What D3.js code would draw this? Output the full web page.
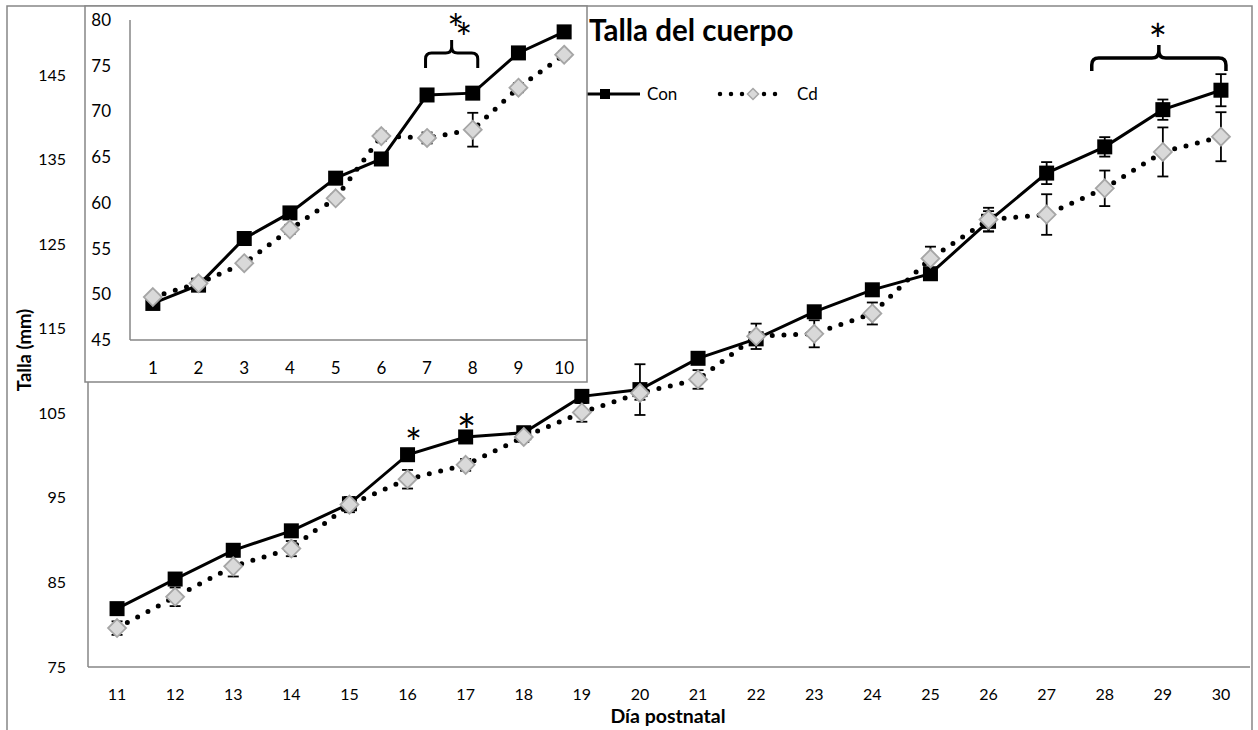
<!DOCTYPE html>
<html>
<head>
<meta charset="utf-8">
<script src="https://cdn.jsdelivr.net/npm/d3@7"></script>
<style>
    body { margin: 0; background: #fff; }
    svg { display: block; font-family: Lato, "Open Sans", sans-serif; }
</style>
</head>
<body>
<svg id="chart" width="1258" height="730"></svg>
<script>
// main panel: days 11-30
const mainDays = [11, 12, 13, 14, 15, 16, 17, 18, 19, 20, 21, 22, 23, 24, 25, 26, 27, 28, 29, 30];
const conMain = [81.9, 85.4, 88.8, 91.1, 94.3, 100.1, 102.2, 102.7, 107.0, 107.8, 111.5, 113.8, 117.0, 119.6, 121.5, 127.7, 133.4, 136.5, 140.9, 143.2];
const cdMain = [79.6, 83.3, 86.9, 89.0, 94.2, 97.2, 98.9, 102.2, 105.1, 107.4, 109.0, 114.1, 114.4, 116.8, 123.3, 127.9, 128.5, 131.6, 135.9, 137.7];
const conMainErr = [0.4, 0.5, 0.5, 0.5, 0.6, 0.5, 0.5, 0.5, 0.5, 3.0, 0.6, 0.5, 0.6, 0.5, 0.6, 1.2, 1.3, 1.15, 1.2, 1.9];
const cdMainErr = [0.8, 1.1, 1.2, 0.9, 0.9, 1.1, 0.7, 0.6, 1.1, 0.8, 1.1, 1.5, 1.6, 1.3, 1.4, 1.4, 2.4, 2.1, 2.9, 2.9];
const mainTicks = [75, 85, 95, 105, 115, 125, 135, 145];

// inset: days 1-10
const insetDays = [1, 2, 3, 4, 5, 6, 7, 8, 9, 10];
const conInset = [49.0, 51.0, 56.1, 58.9, 62.7, 64.8, 71.8, 72.0, 76.4, 78.7];
const cdInset = [49.7, 51.2, 53.4, 57.1, 60.5, 67.3, 67.1, 68.0, 72.6, 76.2];
const conInsetErr = [0.3, 0.3, 0.4, 0.4, 0.4, 0.4, 0.5, 0.4, 0.4, 0.3];
const cdInsetErr = [0.3, 0.4, 0.4, 0.5, 0.4, 0.5, 0.6, 1.85, 0.5, 0.4];
const insetTicks = [45, 50, 55, 60, 65, 70, 75, 80];

// significance marks
const starDays = [16, 17];
const mainBracket = [28, 30];
const insetBracket = [7, 8];

const seriesNames = ["Con", "Cd"];
const title = "Talla del cuerpo";

const frameColor = "#868686";
const diamondFill = "#d9d9d9";
const diamondStroke = "#a6a6a6";

const svg = d3.select("#chart");

// outer chart frame (runs off the bottom of the picture)
svg.append("rect")
    .attr("x", 7).attr("y", 6)
    .attr("width", 1245).attr("height", 800)
    .attr("fill", "#fff")
    .attr("stroke", frameColor).attr("stroke-width", 1.5);

const x = d3.scaleBand().domain(mainDays).range([88, 1250]);
const y = d3.scaleLinear().domain([75, 150]).range([667, 32.7]);

const xi = d3.scaleBand().domain(insetDays).range([130, 587]);
const yi = d3.scaleLinear().domain([45, 80]).range([340, 20]);

function styleAxis(g, size) {
    g.select(".domain").remove();
    g.attr("font-family", null).attr("font-size", null);
    g.selectAll("text").attr("font-size", size).attr("fill", "#000");
}

function diamondPath(r) {
    return `M0,${-r}L${r},0L0,${r}L${-r},0Z`;
}

function bracePath(x0, x1, yBottom, yBar, yTip, r) {
    const xm = (x0 + x1) / 2;
    return `M${x0},${yBottom}L${x0},${yBar + r}Q${x0},${yBar} ${x0 + r},${yBar}` +
        `L${xm - r},${yBar}Q${xm},${yBar} ${xm},${yBar - r}L${xm},${yTip}` +
        `M${xm},${yBar - r}Q${xm},${yBar} ${xm + r},${yBar}` +
        `L${x1 - r},${yBar}Q${x1},${yBar} ${x1},${yBar + r}L${x1},${yBottom}`;
}

// asterisk centred on (cx, cy)
function star(g, cx, cy, fs) {
    return g.append("text")
        .attr("x", cx).attr("y", cy + fs * 0.55)
        .attr("text-anchor", "middle").attr("font-size", fs)
        .text("*");
}

// draws both series with error bars into a group
function drawSeries(g, xs, ys, days, con, cd, conErr, cdErr) {
    const cx = d => xs(d) + xs.bandwidth() / 2;
    const conData = days.map((d, i) => ({day: d, v: con[i], e: conErr[i]}));
    const cdData = days.map((d, i) => ({day: d, v: cd[i], e: cdErr[i]}));
    const line = d3.line().x(d => cx(d.day)).y(d => ys(d.v));

    [conData, cdData].forEach(data => {
        const eb = g.append("g").selectAll("g").data(data).join("g")
            .attr("stroke", "#000").attr("stroke-width", 1.8);
        eb.append("line")
            .attr("x1", d => cx(d.day)).attr("x2", d => cx(d.day))
            .attr("y1", d => ys(d.v - d.e)).attr("y2", d => ys(d.v + d.e));
        eb.append("line")
            .attr("x1", d => cx(d.day) - 5.5).attr("x2", d => cx(d.day) + 5.5)
            .attr("y1", d => ys(d.v - d.e)).attr("y2", d => ys(d.v - d.e));
        eb.append("line")
            .attr("x1", d => cx(d.day) - 5.5).attr("x2", d => cx(d.day) + 5.5)
            .attr("y1", d => ys(d.v + d.e)).attr("y2", d => ys(d.v + d.e));
    });

    g.append("path").datum(conData)
        .attr("d", line).attr("fill", "none")
        .attr("stroke", "#000").attr("stroke-width", 3);
    g.append("g").selectAll("rect").data(conData).join("rect")
        .attr("x", d => cx(d.day) - 7.5).attr("y", d => ys(d.v) - 7.5)
        .attr("width", 15).attr("height", 15).attr("fill", "#000");

    g.append("path").datum(cdData)
        .attr("d", line).attr("fill", "none")
        .attr("stroke", "#000").attr("stroke-width", 5)
        .attr("stroke-linecap", "round").attr("stroke-dasharray", "0 11.7");
    g.append("g").selectAll("path").data(cdData).join("path")
        .attr("transform", d => `translate(${cx(d.day)},${ys(d.v)})`)
        .attr("d", diamondPath(9))
        .attr("fill", diamondFill).attr("stroke", diamondStroke).attr("stroke-width", 1.8);
}

// ---- main panel
const main = svg.append("g");

main.append("g")
    .attr("transform", "translate(88,0)")
    .call(d3.axisLeft(y).tickValues(mainTicks).tickSize(0).tickPadding(22))
    .call(g => styleAxis(g, 16));
main.append("g")
    .attr("transform", "translate(0,667)")
    .call(d3.axisBottom(x).tickSize(0).tickPadding(22))
    .call(g => styleAxis(g, 16));

main.append("line").attr("x1", 88).attr("x2", 88).attr("y1", 32).attr("y2", 667)
    .attr("stroke", frameColor).attr("stroke-width", 1.5);
main.append("line").attr("x1", 88).attr("x2", 1250).attr("y1", 667).attr("y2", 667)
    .attr("stroke", frameColor).attr("stroke-width", 1.5);

drawSeries(main, x, y, mainDays, conMain, cdMain, conMainErr, cdMainErr);

main.append("text")
    .attr("x", 668).attr("y", 723)
    .attr("text-anchor", "middle").attr("font-weight", "bold").attr("font-size", 19.5)
    .text("Día postnatal");
main.append("text")
    .attr("transform", "translate(31,350) rotate(-90)")
    .attr("text-anchor", "middle").attr("font-weight", "bold").attr("font-size", 18.5)
    .text("Talla (mm)");

// stars over single days
const mainCx = d => x(d) + x.bandwidth() / 2;
starDays.forEach((d, i) => {
    const v = conMain[mainDays.indexOf(d)];
    if (i === 0) star(main, mainCx(d) + 6, y(v) - 19, 40);
    else star(main, mainCx(d) + 1, y(v) - 14, 46);
});

// bracket over the last days
const bx0 = mainCx(mainBracket[0]) - 13;
const bx1 = mainCx(mainBracket[1]) + 5;
main.append("path")
    .attr("d", bracePath(bx0, bx1, 71, 58, 45, 7))
    .attr("fill", "none").attr("stroke", "#000").attr("stroke-width", 3.5);
star(main, (bx0 + bx1) / 2 - 1, 32, 44);

// title and legend
svg.append("text")
    .attr("x", 589).attr("y", 41)
    .attr("font-weight", "bold").attr("font-size", 29.5)
    .text(title);

const legend = svg.append("g").attr("transform", "translate(0,94)");
legend.append("line").attr("x1", 572).attr("x2", 640).attr("y1", 0).attr("y2", 0)
    .attr("stroke", "#000").attr("stroke-width", 3);
legend.append("rect").attr("x", 600).attr("y", -5).attr("width", 10).attr("height", 10).attr("fill", "#000");
legend.append("text").attr("x", 647).attr("y", 6).attr("font-size", 17).text(seriesNames[0]);
legend.append("line").attr("x1", 720).attr("x2", 781).attr("y1", 0).attr("y2", 0)
    .attr("stroke", "#000").attr("stroke-width", 4.5)
    .attr("stroke-linecap", "round").attr("stroke-dasharray", "0 11");
legend.append("path").attr("transform", "translate(753,0)").attr("d", diamondPath(5.5))
    .attr("fill", diamondFill).attr("stroke", diamondStroke).attr("stroke-width", 1.5);
legend.append("text").attr("x", 797).attr("y", 6).attr("font-size", 17).text(seriesNames[1]);

// ---- inset panel (days 1-10)
const inset = svg.append("g");
inset.append("rect")
    .attr("x", 85).attr("y", 6).attr("width", 502).attr("height", 376)
    .attr("fill", "#fff").attr("stroke", frameColor).attr("stroke-width", 1.5);

inset.append("g")
    .attr("transform", "translate(130,0)")
    .call(d3.axisLeft(yi).tickValues(insetTicks).tickSize(0).tickPadding(19))
    .call(g => styleAxis(g, 17));
inset.append("g")
    .attr("transform", "translate(0,340)")
    .call(d3.axisBottom(xi).tickSize(0).tickPadding(22))
    .call(g => styleAxis(g, 17));

inset.append("line").attr("x1", 130).attr("x2", 130).attr("y1", 20).attr("y2", 340)
    .attr("stroke", frameColor).attr("stroke-width", 1.5);
inset.append("line").attr("x1", 130).attr("x2", 587).attr("y1", 340).attr("y2", 340)
    .attr("stroke", frameColor).attr("stroke-width", 1.5);

drawSeries(inset, xi, yi, insetDays, conInset, cdInset, conInsetErr, cdInsetErr);

const insetCx = d => xi(d) + xi.bandwidth() / 2;
const ix0 = insetCx(insetBracket[0]) - 1.5;
const ix1 = insetCx(insetBracket[1]) + 5;
inset.append("path")
    .attr("d", bracePath(ix0, ix1, 68, 53, 40, 6))
    .attr("fill", "none").attr("stroke", "#000").attr("stroke-width", 3);
// two staggered asterisks, as in the original (they touch on purpose)
star(inset, (ix0 + ix1) / 2 + 4, 22, 40);
star(inset, (ix0 + ix1) / 2 + 12, 31, 40);
</script>
</body>
</html>
